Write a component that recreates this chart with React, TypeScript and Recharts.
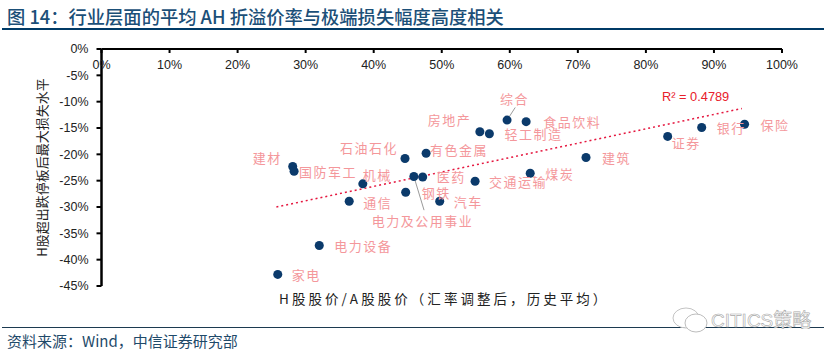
import { ScatterChart, Scatter, XAxis, YAxis, ZAxis, ReferenceLine, LabelList } from 'recharts'

const SECTORS = ['家电', '电力设备', '通信', '机械', '建材', '国防军工', '石油石化', '钢铁', '电力及公用事业', '医药', '有色金属', '汽车', '交通运输', '煤炭', '房地产', '轻工制造', '综合', '食品饮料', '建筑', '证券', '银行', '保险']
const PREMIUM = [25.9, 32.0, 36.4, 38.4, 28.1, 28.3, 44.6, 44.7, 45.9, 47.2, 47.7, 49.7, 54.9, 63.0, 55.6, 57.0, 59.6, 62.4, 71.2, 83.2, 88.2, 94.5]
const MAX_LOSS = [-42.8, -37.3, -28.9, -25.6, -22.3, -23.2, -20.8, -27.2, -24.2, -24.3, -19.8, -28.9, -25.1, -23.6, -15.7, -16.1, -13.5, -13.8, -20.6, -16.6, -14.9, -14.3]

const TREND_X = [25.7, 94.1]
const TREND_Y = [-30, -11.3]

const X_TICKS = [0, 10, 20, 30, 40, 50, 60, 70, 80, 90, 100]
const Y_TICKS = [0, -5, -10, -15, -20, -25, -30, -35, -40, -45]

// label position relative to its dot, in px
const LABEL_DX = [14, 15, 14, 0, -40, 5, -65, 16, -42, 14, 4, 14, 14, 15, -52, 15, -7, 17, 16, 4, 15, 16]
const LABEL_DY = [0, 0, 1, -9, -9, 0, -11, 0, 44, 0, -4, 0, 0, 0, -12, 0, -22, 0, 0, 6, 0, 0]

const points = SECTORS.map((name, i) => ({ name, x: PREMIUM[i], y: MAX_LOSS[i] }))
const trend = TREND_X.map((x, i) => ({ x, y: TREND_Y[i] }))

const LATIN = '"Liberation Sans", "Noto Sans CJK SC", sans-serif'
const CJK = '"Noto Sans CJK SC", sans-serif'
const PINK = '#f4979b'
const NAVY = '#0b3a6b'

const pct = (v: number) => `${v}%`

function SectorLabel(props: any) {
  const { x, y, width, height, index, value } = props
  return (
    <text
      x={x + width / 2 + LABEL_DX[index]}
      y={y + height / 2 + LABEL_DY[index]}
      dominantBaseline="central"
      fill={PINK}
      fontFamily={CJK}
      fontSize={13}
      letterSpacing={1.5}
    >
      {value}
    </text>
  )
}

function Watermark() {
  return (
    <svg width={838} height={357} style={{ position: 'absolute', left: 0, top: 0, pointerEvents: 'none' }}>
      <ellipse cx={686} cy={318} rx={13} ry={10} fill="#fff" stroke="#c4c4c4" strokeWidth={1} />
      <ellipse cx={696} cy={323} rx={11} ry={9} fill="#fff" stroke="#bdbdbd" strokeWidth={1} />
      <text x={711} y={327} fontFamily={LATIN} fontSize={19} fill="#fff" stroke="#a8a8a8" strokeWidth={0.6}>
        CITICS策略
      </text>
    </svg>
  )
}

export default function App() {
  return (
    <div style={{ position: 'absolute', left: 0, top: 0, width: 838, height: 357, background: '#fff', overflow: 'hidden' }}>
      <div style={{ position: 'absolute', left: 7, top: 3, fontFamily: CJK, fontSize: 18.3, fontWeight: 500, lineHeight: '26px', color: '#1b4f78', whiteSpace: 'nowrap' }}>
        图 14：行业层面的平均 AH 折溢价率与极端损失幅度高度相关
      </div>
      <div style={{ position: 'absolute', left: 2, top: 28, width: 822, height: 2, background: '#003a66' }} />

      <ScatterChart width={838} height={357} margin={{ top: 49, right: 56, bottom: 71, left: 0 }}>
        <XAxis
          type="number"
          dataKey="x"
          orientation="top"
          mirror
          height={30}
          domain={[0, 100]}
          ticks={X_TICKS}
          tickFormatter={pct}
          interval={0}
          allowDataOverflow
          tick={{ fill: '#222', fontSize: 12.5, fontFamily: LATIN }}
          tickSize={4}
          tickMargin={7}
          axisLine={{ stroke: '#000', strokeWidth: 2 }}
          tickLine={{ stroke: '#000', strokeWidth: 2 }}
        />
        <YAxis
          type="number"
          dataKey="y"
          width={101.5}
          domain={[-45, 0]}
          ticks={Y_TICKS}
          tickFormatter={pct}
          interval={0}
          tick={{ fill: '#222', fontSize: 12.5, fontFamily: LATIN }}
          tickSize={5}
          tickMargin={8}
          axisLine={{ stroke: '#000', strokeWidth: 2.5 }}
          tickLine={{ stroke: '#000', strokeWidth: 2 }}
          label={{ value: 'H股超出跌停板后最大损失水平', angle: -90, position: 'insideLeft', offset: 42, fill: '#222', fontSize: 13, fontFamily: CJK, textAnchor: 'middle' }}
        />
        <ZAxis range={[50, 50]} />
        <ReferenceLine segment={[{ x: 60.8, y: -11.1 }, { x: 59.6, y: -13.5 }]} stroke="#9a9a9a" />
        <ReferenceLine segment={[{ x: 47.4, y: -30.6 }, { x: 45.9, y: -24.2 }]} stroke="#9a9a9a" />
        <Scatter
          data={trend}
          isAnimationActive={false}
          shape={() => <g />}
          line={{ stroke: '#e5173f', strokeWidth: 1.5, strokeDasharray: '2 3' }}
        />
        <Scatter data={points} fill={NAVY} isAnimationActive={false}>
          <LabelList dataKey="name" content={SectorLabel} />
        </Scatter>
      </ScatterChart>

      <div style={{ position: 'absolute', left: 662, top: 89, fontFamily: LATIN, fontSize: 12.8, lineHeight: '16px', color: '#e8202a', whiteSpace: 'nowrap' }}>
        R² = 0.4789
      </div>
      <div style={{ position: 'absolute', left: 279, top: 289, fontFamily: CJK, fontSize: 13.5, lineHeight: '18px', letterSpacing: 3.05, color: '#222', whiteSpace: 'nowrap' }}>
        H股股价/A股股价（汇率调整后，历史平均）
      </div>

      <div style={{ position: 'absolute', left: 2, top: 327, width: 822, height: 1, background: '#1c3a50' }} />
      <div style={{ position: 'absolute', left: 7, top: 330, fontFamily: CJK, fontSize: 15, lineHeight: '21px', color: '#1f4a6a', whiteSpace: 'nowrap' }}>
        资料来源：Wind，中信证券研究部
      </div>
      <Watermark />
    </div>
  )
}
